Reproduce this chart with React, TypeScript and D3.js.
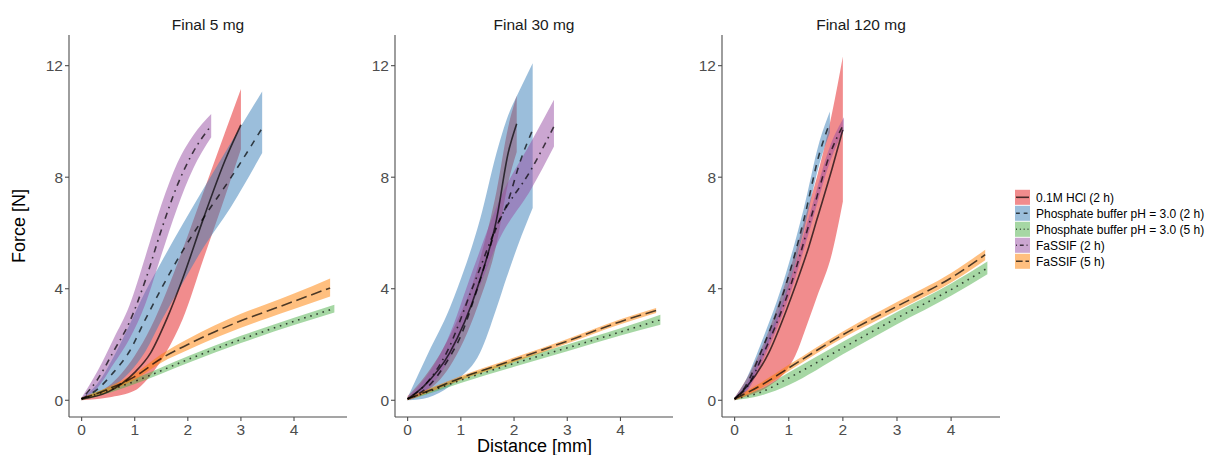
import React from "react";
import * as d3 from "d3";

// each row: [distance mm, lower N, mean N, upper N]
type Row = [number, number, number, number];

const seriesNames = [
  "0.1M HCl (2 h)",
  "Phosphate buffer pH = 3.0 (2 h)",
  "Phosphate buffer pH = 3.0 (5 h)",
  "FaSSIF (2 h)",
  "FaSSIF (5 h)",
];
const seriesColors = ["#E41A1C", "#377EB8", "#4DAF4A", "#984EA3", "#FF7F00"];
const seriesDash = ["", "6.4,6.4", "1.6,4.8", "1.6,4.8,6.4,4.8", "11,4.8"];

const panelTitles = ["Final 5 mg", "Final 30 mg", "Final 120 mg"];
const yTicks = [0, 4, 8, 12];
const xTicks = [0, 1, 2, 3, 4];

// Final 5 mg
const hcl5: Row[] = [
  [0, 0.0, 0.05, 0.1], [0.5, 0.1, 0.3, 0.5], [1.0, 0.35, 1.0, 1.6], [1.3, 0.9, 1.7, 2.6],
  [1.6, 1.75, 2.9, 3.9], [1.9, 2.9, 4.35, 5.4], [2.3, 5.1, 6.55, 7.5], [2.7, 7.3, 8.6, 9.6],
  [3.0, 9.0, 9.88, 11.16],
];
const pho2h5: Row[] = [
  [0, 0.0, 0.05, 0.1], [0.3, 0.2, 0.4, 0.6], [0.6, 0.5, 1.0, 1.55], [0.9, 1.0, 1.75, 2.7],
  [1.2, 1.75, 2.9, 3.9], [1.5, 2.85, 4.0, 4.95], [1.9, 4.2, 5.35, 6.3], [2.3, 5.5, 6.55, 7.6],
  [2.8, 6.9, 7.95, 9.2], [3.4, 8.87, 9.76, 11.07],
];
const pho5h5: Row[] = [
  [0, 0.0, 0.05, 0.1], [0.5, 0.25, 0.35, 0.45], [1.0, 0.58, 0.68, 0.78], [2.0, 1.34, 1.46, 1.58],
  [3.0, 2.05, 2.18, 2.31], [4.0, 2.7, 2.83, 2.96], [4.76, 3.15, 3.29, 3.43],
];
const fas2h5: Row[] = [
  [0, 0.0, 0.05, 0.1], [0.3, 0.45, 0.75, 1.05], [0.6, 1.3, 1.75, 2.2], [0.9, 2.2, 2.8, 3.4],
  [1.2, 3.45, 4.3, 5.15], [1.5, 5.2, 6.1, 7.0], [1.8, 6.9, 7.7, 8.5], [2.1, 8.3, 8.9, 9.5],
  [2.44, 9.43, 9.85, 10.27],
];
const fas5h5: Row[] = [
  [0, 0.0, 0.05, 0.1], [0.5, 0.32, 0.4, 0.48], [1.0, 0.74, 0.85, 0.96], [1.5, 1.35, 1.5, 1.65],
  [2.0, 1.8, 2.0, 2.2], [2.5, 2.22, 2.45, 2.68], [3.0, 2.6, 2.85, 3.1], [3.5, 2.94, 3.2, 3.46],
  [4.0, 3.27, 3.55, 3.83], [4.68, 3.72, 4.03, 4.37],
];

// Final 30 mg
const hcl30: Row[] = [
  [0, 0.0, 0.05, 0.15], [0.3, 0.25, 0.5, 0.8], [0.79, 1.2, 1.7, 2.3], [1.32, 3.4, 4.09, 4.8],
  [1.67, 5.6, 6.48, 7.5], [1.89, 7.8, 8.87, 9.8], [2.05, 8.9, 9.92, 10.92],
];
const pho2h30: Row[] = [
  [0, 0.0, 0.05, 0.1], [0.39, 0.1, 0.5, 1.7], [0.79, 0.5, 1.55, 3.3], [0.95, 0.75, 2.1, 4.09],
  [1.36, 1.7, 4.3, 6.48], [1.67, 3.3, 6.2, 8.87], [1.86, 4.4, 7.0, 10.06], [2.14, 5.9, 8.7, 11.26],
  [2.35, 6.9, 9.7, 12.09],
];
const pho5h30: Row[] = [
  [0, 0.0, 0.05, 0.1], [0.5, 0.3, 0.38, 0.46], [1.0, 0.62, 0.72, 0.82], [2.0, 1.2, 1.32, 1.44],
  [3.0, 1.76, 1.88, 2.0], [4.0, 2.32, 2.45, 2.58], [4.75, 2.71, 2.89, 3.07],
];
const fas2h30: Row[] = [
  [0, 0.0, 0.05, 0.1], [0.35, 0.35, 0.6, 0.85], [0.73, 1.3, 1.7, 2.1], [1.23, 3.5, 4.09, 4.7],
  [1.73, 5.8, 6.48, 7.2], [2.33, 7.6, 8.3, 9.3], [2.75, 9.1, 9.82, 10.78],
];
const fas5h30: Row[] = [
  [0, 0.0, 0.05, 0.1], [0.5, 0.35, 0.42, 0.49], [1.0, 0.73, 0.8, 0.87], [2.0, 1.37, 1.45, 1.53],
  [3.0, 2.04, 2.12, 2.2], [4.0, 2.73, 2.82, 2.91], [4.67, 3.13, 3.22, 3.31],
];

// Final 120 mg
const hcl120: Row[] = [
  [0, 0.0, 0.05, 0.1], [0.23, 0.15, 0.5, 0.8], [0.63, 0.5, 1.7, 2.5], [0.97, 1.1, 3.3, 4.4],
  [1.12, 1.6, 4.09, 5.3], [1.37, 2.89, 5.5, 7.0], [1.52, 3.7, 6.48, 8.0], [1.8, 5.28, 8.3, 10.3],
  [2.0, 7.13, 9.7, 12.33],
];
const pho2h120: Row[] = [
  [0, 0.0, 0.05, 0.1], [0.2, 0.3, 0.5, 0.7], [0.48, 1.4, 1.7, 2.0], [0.94, 3.7, 4.09, 4.5],
  [1.28, 6.1, 6.48, 6.9], [1.57, 8.5, 8.87, 9.3], [1.76, 9.6, 9.96, 10.36],
];
const pho5h120: Row[] = [
  [0, 0.0, 0.05, 0.1], [0.5, 0.18, 0.3, 0.42], [1.0, 0.55, 0.8, 1.0], [2.0, 1.65, 1.88, 2.1],
  [3.0, 2.73, 2.95, 3.17], [4.0, 3.75, 3.97, 4.19], [4.67, 4.52, 4.74, 4.98],
];
const fas2h120: Row[] = [
  [0, 0.0, 0.05, 0.1], [0.22, 0.3, 0.45, 0.6], [0.54, 1.5, 1.7, 1.9], [1.03, 3.85, 4.09, 4.35],
  [1.4, 6.2, 6.48, 6.75], [1.77, 8.6, 8.87, 9.15], [2.02, 9.7, 9.92, 10.15],
];
const fas5h120: Row[] = [
  [0, 0.0, 0.05, 0.1], [0.5, 0.45, 0.55, 0.65], [1.0, 1.05, 1.16, 1.27], [2.0, 2.23, 2.35, 2.47],
  [3.0, 3.22, 3.37, 3.52], [4.0, 4.22, 4.39, 4.56], [4.63, 5.02, 5.22, 5.4],
];

const panels: Row[][][] = [
  [hcl5, pho2h5, pho5h5, fas2h5, fas5h5],
  [hcl30, pho2h30, pho5h30, fas2h30, fas5h30],
  [hcl120, pho2h120, pho5h120, fas2h120, fas5h120],
];

const W = 1208;
const H = 455;
const panelLeft = [69, 395, 722];
const panelW = 278;
const top = 35;
const bottom = 417;
const font = "'Liberation Sans', Arial, sans-serif";

const y = d3.scaleLinear().domain([-0.6, 13.1]).range([bottom, top]);

function Panel({ idx }: { idx: number }) {
  const data = panels[idx];
  const left = panelLeft[idx];
  const xmax = d3.max(data, (s) => d3.max(s, (r) => r[0])) as number;
  const x = d3
    .scaleLinear()
    .domain([-0.05 * xmax, 1.05 * xmax])
    .range([left, left + panelW]);

  const area = d3
    .area<Row>()
    .x((r) => x(r[0]))
    .y0((r) => y(r[1]))
    .y1((r) => y(r[3]))
    .curve(d3.curveMonotoneX);
  const line = d3
    .line<Row>()
    .x((r) => x(r[0]))
    .y((r) => y(r[2]))
    .curve(d3.curveMonotoneX);

  return (
    <g>
      <text x={left + panelW / 2} y={30} textAnchor="middle" fontSize={15.5} fill="#1a1a1a">
        {panelTitles[idx]}
      </text>
      {data.map((s, i) => (
        <path key={"a" + i} d={area(s) || ""} fill={seriesColors[i]} fillOpacity={0.5} />
      ))}
      {data.map((s, i) => (
        <path
          key={"l" + i}
          d={line(s) || ""}
          fill="none"
          stroke="#000"
          strokeOpacity={0.7}
          strokeWidth={1.6}
          strokeDasharray={seriesDash[i] || undefined}
        />
      ))}
      {/* axes */}
      <line x1={left} x2={left} y1={top} y2={bottom} stroke="#4d4d4d" strokeWidth={1.1} />
      <line x1={left} x2={left + panelW} y1={bottom} y2={bottom} stroke="#4d4d4d" strokeWidth={1.1} />
      {yTicks.map((t) => (
        <g key={"y" + t}>
          <line x1={left - 4} x2={left} y1={y(t)} y2={y(t)} stroke="#4d4d4d" strokeWidth={1.1} />
          <text x={left - 6} y={y(t) + 5.5} textAnchor="end" fontSize={15.5} fill="#4d4d4d">
            {t}
          </text>
        </g>
      ))}
      {xTicks.map((t) => (
        <g key={"x" + t}>
          <line x1={x(t)} x2={x(t)} y1={bottom} y2={bottom + 4} stroke="#4d4d4d" strokeWidth={1.1} />
          <text x={x(t)} y={435} textAnchor="middle" fontSize={15.5} fill="#4d4d4d">
            {t}
          </text>
        </g>
      ))}
    </g>
  );
}

export default function App() {
  return (
    <div style={{ position: "absolute", left: 0, top: 0 }}>
      <svg width={W} height={H} style={{ display: "block", fontFamily: font }}>
        <rect width={W} height={H} fill="#fff" />
        {panels.map((_, i) => (
          <Panel key={i} idx={i} />
        ))}
        <text
          transform={`translate(25,226) rotate(-90)`}
          textAnchor="middle"
          fontSize={18}
          fill="#000"
        >
          Force [N]
        </text>
        <text x={534.5} y={452} textAnchor="middle" fontSize={18} fill="#000">
          Distance [mm]
        </text>
        {/* legend */}
        {seriesNames.map((n, i) => {
          const cy = 197.3 + 16 * i;
          return (
            <g key={n}>
              <rect x={1015} y={cy - 7.5} width={15} height={15} fill={seriesColors[i]} fillOpacity={0.5} />
              <line
                x1={1016}
                x2={1029}
                y1={cy}
                y2={cy}
                stroke="#000"
                strokeOpacity={0.7}
                strokeWidth={1.6}
                strokeDasharray={seriesDash[i] ? seriesDash[i].split(",").map((v) => +v * 0.6).join(",") : undefined}
              />
              <text x={1036} y={cy + 4.3} fontSize={12} fill="#000">
                {n}
              </text>
            </g>
          );
        })}
      </svg>
    </div>
  );
}
